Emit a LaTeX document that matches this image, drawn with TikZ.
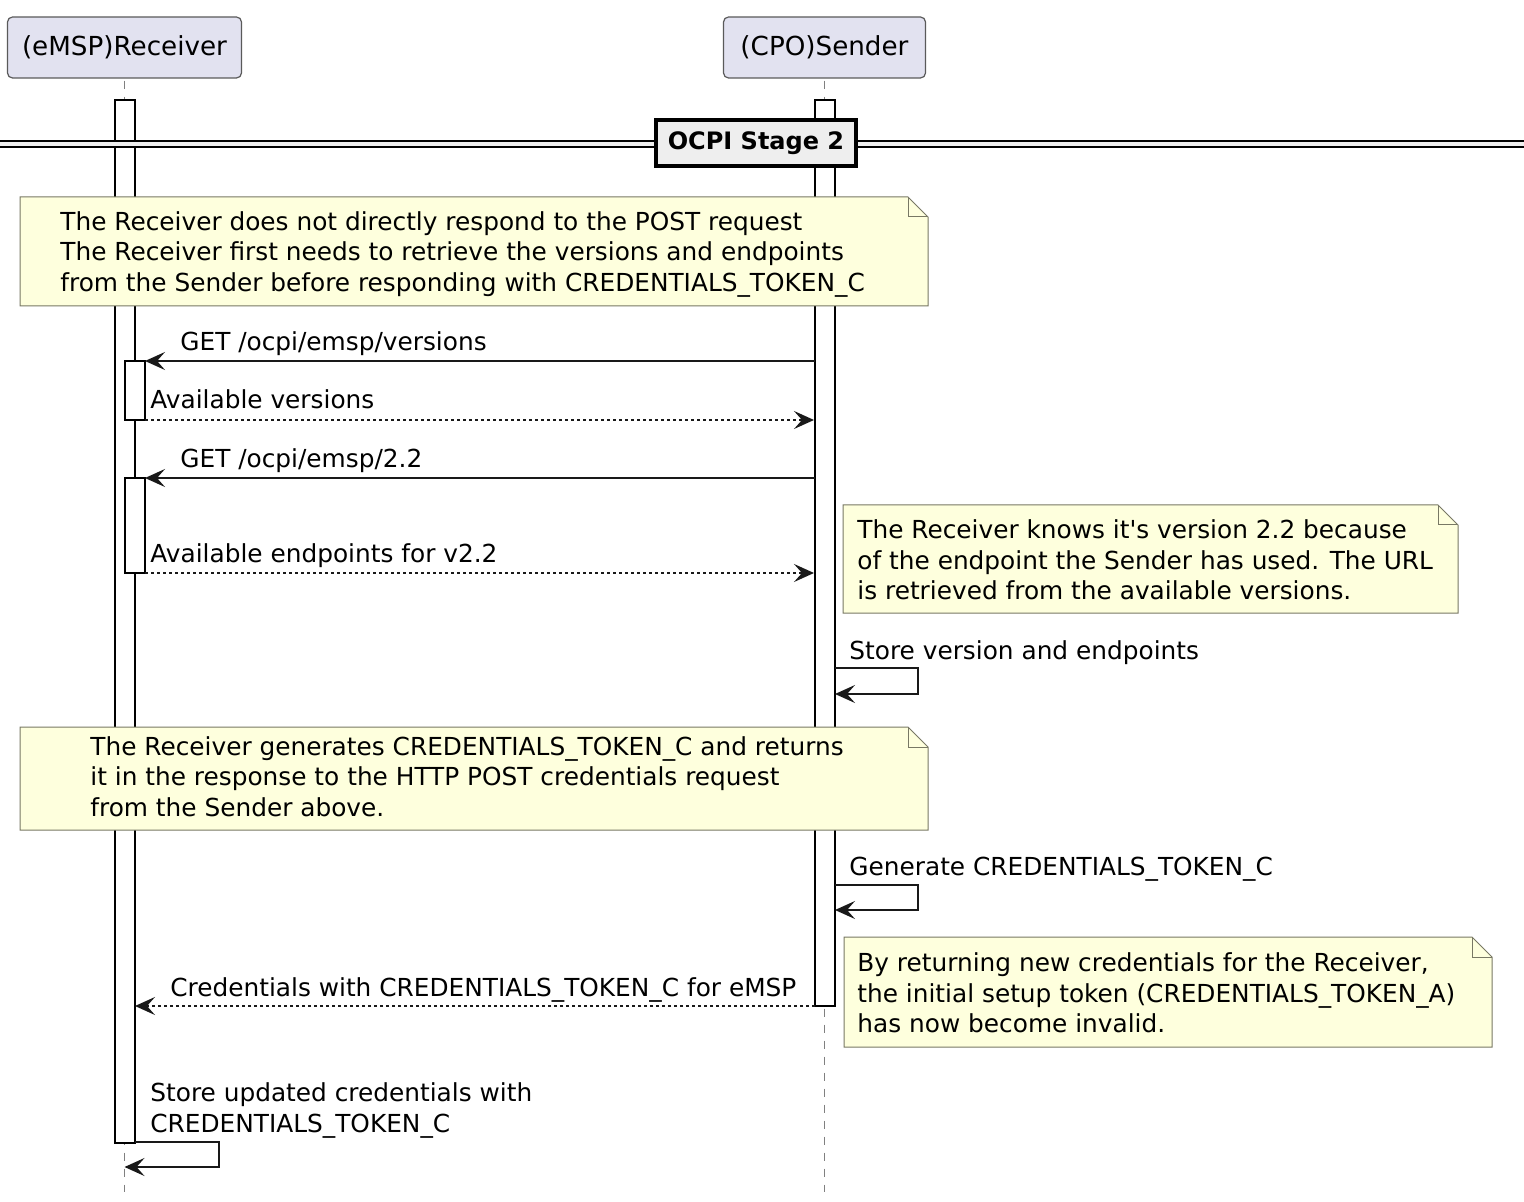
\documentclass[tikz,border=0pt]{standalone}
\usepackage{fontspec}
\setmainfont{DejaVu Sans}[Ligatures=TeXOff]
\usetikzlibrary{arrows.meta}
\definecolor{partfill}{RGB}{226,226,240}
\definecolor{partdraw}{RGB}{90,90,90}
\definecolor{notefill}{RGB}{254,255,221}
\definecolor{notedraw}{RGB}{120,120,100}
\definecolor{sepfill}{RGB}{238,238,238}
\begin{document}
\begin{tikzpicture}[x=0.5pt,y=-0.5pt,
  participant/.style={draw=partdraw, fill=partfill, rounded corners=2.5pt, line width=0.6pt, font=\fontsize{13.1}{16}\selectfont, inner sep=0pt},
  lifeline/.style={draw=black!50, line width=0.5pt, dash pattern=on 4pt off 4pt},
  actbar/.style={draw=black, fill=white, line width=0.8pt},
  msg/.style={draw=black!90, line width=0.9pt, -{Stealth[length=10pt,width=9pt,inset=4pt]}},
  ret/.style={msg, dash pattern=on 1.5pt off 1.5pt},
  lbl/.style={anchor=base west, inner sep=0pt, font=\fontsize{12.4}{15}\selectfont},
  notebox/.style={draw=notedraw, fill=notefill, line width=0.5pt, line join=miter},
  stagebox/.style={draw=black, fill=sepfill, line width=1.6pt, font=\bfseries\fontsize{12}{14}\selectfont, inner sep=0pt, minimum width=100pt, minimum height=23pt}
]
\useasboundingbox (0,0) rectangle (1524,1202);

% participants
\node[participant, minimum width=117pt, minimum height=30.5pt] (rcv) at (124.5,47.5) {(eMSP)Receiver};
\node[participant, minimum width=101pt, minimum height=30.5pt] (snd) at (824.5,47.5) {(CPO)Sender};
\coordinate (rcvend) at (124.5,1192);
\coordinate (sndend) at (824.5,1192);
\draw[lifeline] ([yshift=-1pt]rcv.south) -- (rcvend);
\draw[lifeline] ([yshift=-1pt]snd.south) -- (sndend);

% activation bars
\draw[actbar] (115,100) rectangle (135,1143);
\draw[actbar] (815,100) rectangle (835,1006);
\draw[actbar] (125,361) rectangle (145,420);
\draw[actbar] (125,478) rectangle (145,573);

% separator
\draw[draw=black, fill=sepfill, line width=0.8pt] (-2,141) rectangle (1526,147);
\node[stagebox] (stage) at (756,143) {OCPI Stage 2};

% note 1
\draw[notebox] (20,197) -- (908,197) -- (928,217) -- (928,306) -- (20,306) -- cycle;
\draw[notebox, fill=none] (908,197) -- (908,217) -- (928,217);
\node[lbl] (n1a) at (60,231) {The Receiver does not directly respond to the POST request};
\node[lbl] (n1b) at (60,261) {The Receiver first needs to retrieve the versions and endpoints};
\node[lbl] (n1c) at (60,292) {from the Sender before responding with CREDENTIALS\_TOKEN\_C};

% messages
\coordinate (s1) at (815,361); \coordinate (r1) at (145,361);
\draw[msg] (s1) -- (r1);
\node[lbl] (m1) at (180,351) {GET /ocpi/emsp/versions};
\coordinate (r2) at (145,420); \coordinate (s2) at (814,420);
\draw[ret] (r2) -- (s2);
\node[lbl] (m2) at (150,409) {Available versions};
\coordinate (s3) at (815,478); \coordinate (r3) at (145,478);
\draw[msg] (s3) -- (r3);
\node[lbl] (m3) at (180,468) {GET /ocpi/emsp/2.2};
\coordinate (r4) at (145,573); \coordinate (s4) at (814,573);
\draw[ret] (r4) -- (s4);
\node[lbl] (m4) at (150,563) {Available endpoints for v2.2};

% note 3
\draw[notebox] (843,505) -- (1438,505) -- (1458,525) -- (1458,613) -- (843,613) -- cycle;
\draw[notebox, fill=none] (1438,505) -- (1438,525) -- (1458,525);
\node[lbl] (n3a) at (857,539) {The Receiver knows it's version 2.2 because};
\node[lbl] (n3b) at (857,569) {of the endpoint the Sender has used. The URL};
\node[lbl] (n3c) at (857,599) {is retrieved from the available versions.};

% self message 1
\coordinate (sa) at (835,668); \coordinate (sb) at (918,668);
\coordinate (sc) at (918,694); \coordinate (sd) at (835,694);
\draw[msg] (sa) -- (sb) -- (sc) -- (sd);
\node[lbl] (m5) at (849,659) {Store version and endpoints};

% note 4
\draw[notebox] (20,727) -- (908,727) -- (928,747) -- (928,830) -- (20,830) -- cycle;
\draw[notebox, fill=none] (908,727) -- (908,747) -- (928,747);
\node[lbl] (n4a) at (90,755) {The Receiver generates CREDENTIALS\_TOKEN\_C and returns};
\node[lbl] (n4b) at (90,785) {it in the response to the HTTP POST credentials request};
\node[lbl] (n4c) at (90,816) {from the Sender above.};

% self message 2
\coordinate (ga) at (835,885); \coordinate (gb) at (918,885);
\coordinate (gc) at (918,910); \coordinate (gd) at (835,910);
\draw[msg] (ga) -- (gb) -- (gc) -- (gd);
\node[lbl] (m6) at (849,875) {Generate CREDENTIALS\_TOKEN\_C};

% note 5
\draw[notebox] (844,937) -- (1472,937) -- (1492,957) -- (1492,1047) -- (844,1047) -- cycle;
\draw[notebox, fill=none] (1472,937) -- (1472,957) -- (1492,957);
\node[lbl] (n5a) at (857,971) {By returning new credentials for the Receiver,};
\node[lbl] (n5b) at (857,1002) {the initial setup token (CREDENTIALS\_TOKEN\_A)};
\node[lbl] (n5c) at (857,1032) {has now become invalid.};

% credentials return
\coordinate (s7) at (815,1006); \coordinate (r7) at (135,1006);
\draw[ret] (s7) -- (r7);
\node[lbl] (m7) at (170,996) {Credentials with CREDENTIALS\_TOKEN\_C for eMSP};

% self message 3
\coordinate (ua) at (135,1142); \coordinate (ub) at (219,1142);
\coordinate (uc) at (219,1167); \coordinate (ud) at (124.5,1167);
\draw[msg] (ua) -- (ub) -- (uc) -- (ud);
\node[lbl] (m8a) at (150,1101) {Store updated credentials with};
\node[lbl] (m8b) at (150,1132) {CREDENTIALS\_TOKEN\_C};
\end{tikzpicture}
\end{document}
